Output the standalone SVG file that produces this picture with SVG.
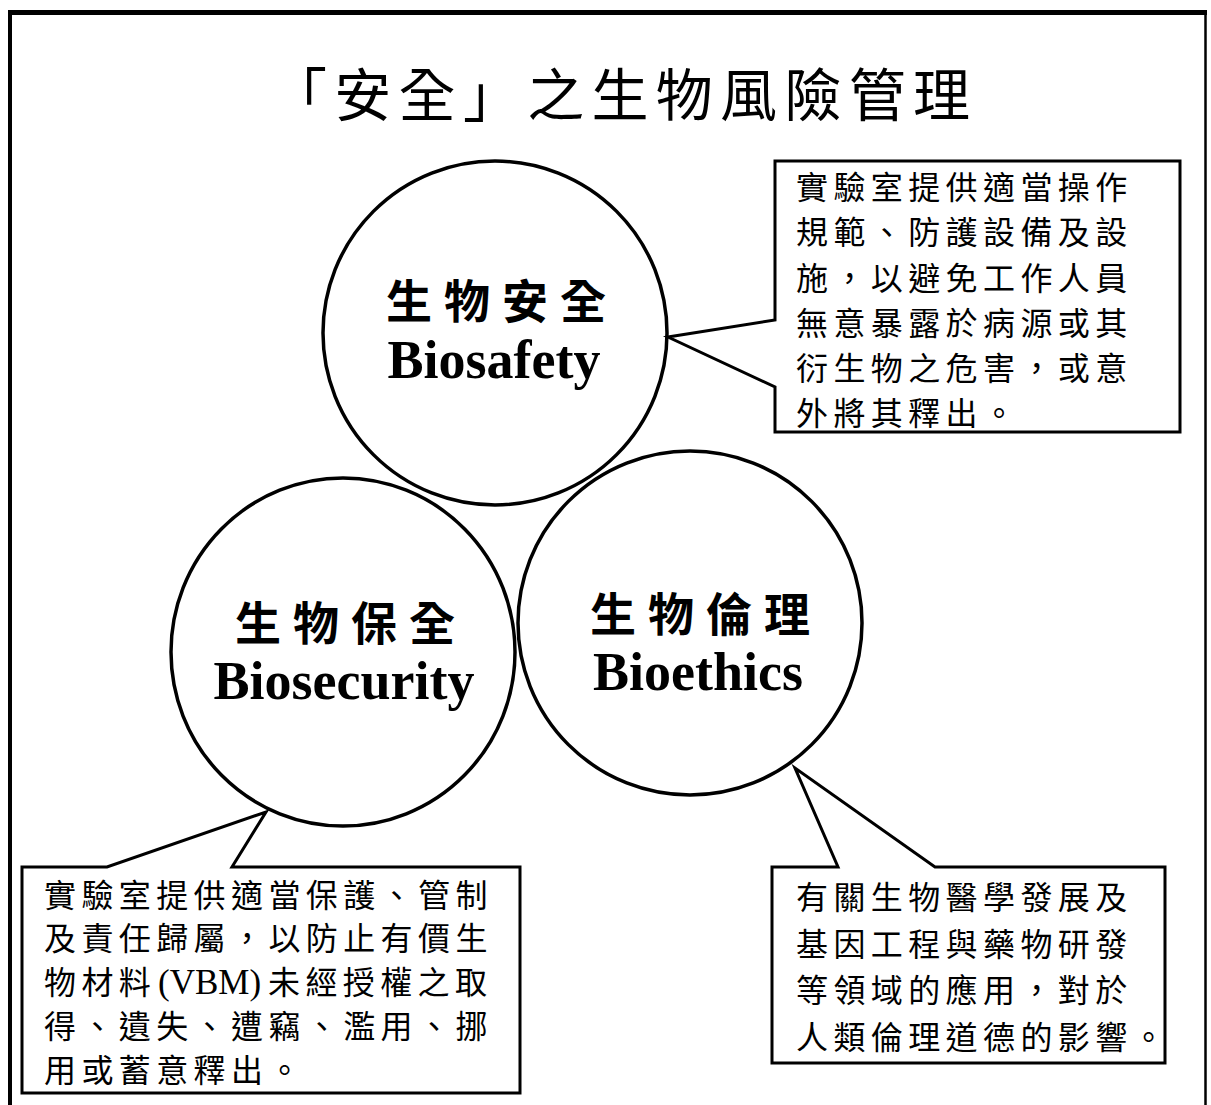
<svg xmlns="http://www.w3.org/2000/svg" width="1211" height="1105" viewBox="0 0 1211 1105">
<style>
.frame{fill:none;stroke:#000;}
.circ{fill:none;stroke:#000;stroke-width:3.5;}
.callout{fill:#fff;stroke:#000;stroke-width:3;stroke-linejoin:miter;}
.title{font-family:"Noto Sans CJK TC","Noto Sans CJK SC",sans-serif;font-size:57px;fill:#000;}
.head{font-family:"Noto Sans CJK TC",sans-serif;font-size:46px;font-weight:bold;fill:#000;}
.eng{font-family:"Liberation Serif","Times New Roman",serif;font-size:54px;font-weight:bold;fill:#000;text-anchor:middle;}
.body{font-family:"Noto Sans CJK TC",sans-serif;font-size:32px;letter-spacing:5.4px;fill:#000;}
.lat{font-family:"Liberation Serif",serif;font-size:35px;letter-spacing:0;}
</style>
<rect width="1211" height="1105" fill="#fff"/>
<g id="frame">
<line class="frame" x1="8" y1="12.5" x2="1207" y2="12.5" stroke-width="5"/>
<line class="frame" x1="10" y1="10" x2="10" y2="1105" stroke-width="4"/>
<line class="frame" x1="1205.5" y1="10" x2="1205.5" y2="1105" stroke-width="2.5"/>
</g>
<g id="title">
<text class="title" x="270" y="116" textLength="700" lengthAdjust="spacing">「安全」之生物風險管理</text>
</g>
<g id="node-biosafety">
<ellipse class="circ" cx="495" cy="333" rx="172" ry="172"/>
<text class="head" x="386" y="318" textLength="220" lengthAdjust="spacing">生物安全</text>
<text class="eng" x="494" y="378">Biosafety</text>
</g>
<g id="node-biosecurity">
<ellipse class="circ" cx="343" cy="652" rx="172" ry="174"/>
<text class="head" x="235" y="640" textLength="220" lengthAdjust="spacing">生物保全</text>
<text class="eng" x="344" y="699">Biosecurity</text>
</g>
<g id="node-bioethics">
<ellipse class="circ" cx="690" cy="623" rx="172" ry="172"/>
<text class="head" x="590" y="631" textLength="220" lengthAdjust="spacing">生物倫理</text>
<text class="eng" x="698" y="690">Bioethics</text>
</g>
<g id="connectors">
<path class="callout" d="M775,161 H1180 V432 H775 V387 L668,337 L775,320 Z"/>
<path class="callout" d="M22,867 H107 L266,812 L232,867 H520 V1093 H22 Z"/>
<path class="callout" d="M772,867 H838 L795,768 L935,867 H1165 V1063 H772 Z"/>
</g>
<g id="note-biosafety">
<text class="body" x="796" y="199">實驗室提供適當操作</text>
<text class="body" x="796" y="244">規範、防護設備及設</text>
<text class="body" x="796" y="290">施，以避免工作人員</text>
<text class="body" x="796" y="335">無意暴露於病源或其</text>
<text class="body" x="796" y="380">衍生物之危害，或意</text>
<text class="body" x="796" y="425">外將其釋出。</text>
</g>
<g id="note-biosecurity">
<text class="body" x="44" y="907">實驗室提供適當保護、管制</text>
<text class="body" x="44" y="950">及責任歸屬，以防止有價生</text>
<text class="body" y="994"><tspan x="44">物材料</tspan><tspan class="lat" x="158">(VBM)</tspan><tspan x="268">未經授權之取</tspan></text>
<text class="body" x="44" y="1038">得、遺失、遭竊、濫用、挪</text>
<text class="body" x="44" y="1082">用或蓄意釋出。</text>
</g>
<g id="note-bioethics">
<text class="body" x="796" y="909">有關生物醫學發展及</text>
<text class="body" x="796" y="956">基因工程與藥物研發</text>
<text class="body" x="796" y="1002">等領域的應用，對於</text>
<text class="body" x="796" y="1049">人類倫理道德的影響。</text>
</g>
</svg>
